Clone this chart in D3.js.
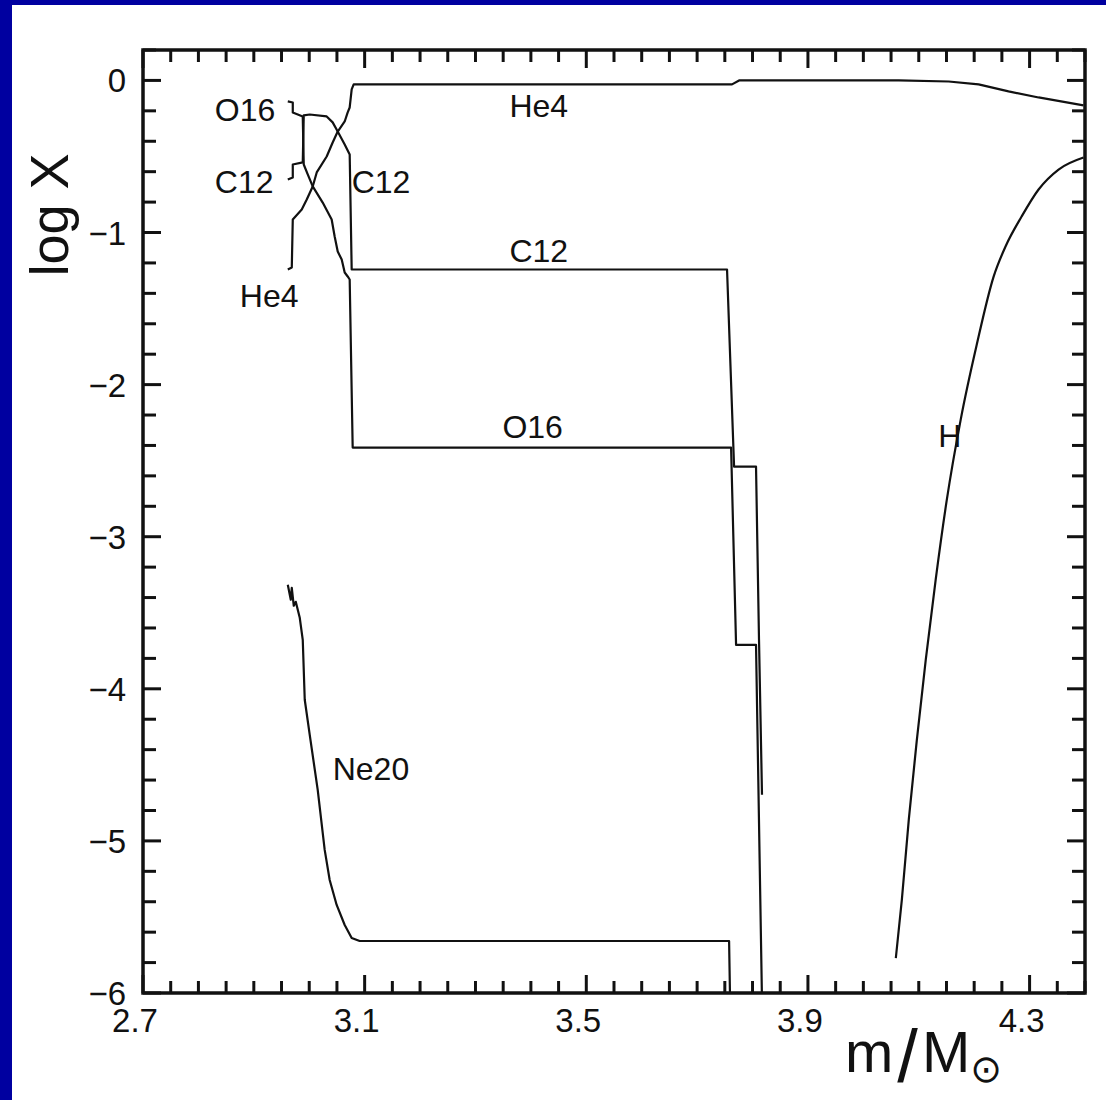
<!DOCTYPE html>
<html>
<head>
<meta charset="utf-8">
<script src="https://cdn.jsdelivr.net/npm/d3@7"></script>
<style>
  html, body { margin: 0; padding: 0; background: #0000a0; }
  svg { display: block; }
  text { font-family: "Liberation Sans", Arial, Helvetica, sans-serif; fill: #111; }
</style>
</head>
<body>
<svg id="chart" width="1106" height="1100"></svg>
<script>
// ---------- data (mass coordinate m/Msun, log abundance) ----------
const he4M = [2.9613, 2.9685, 2.9703, 2.9865, 2.9955, 3.0063, 3.0135, 3.0315, 3.0423, 3.0514, 3.0640, 3.0694, 3.0730, 3.0766, 3.0802, 3.7630, 3.7757, 4.0640, 4.1540, 4.2080, 4.2620, 4.3162, 4.3973];
const he4V = [-1.243, -1.230, -0.914, -0.849, -0.783, -0.697, -0.605, -0.500, -0.408, -0.336, -0.270, -0.210, -0.178, -0.059, -0.026, -0.026, 0.000, 0.000, -0.007, -0.026, -0.072, -0.112, -0.164];

const c12M = [2.9613, 2.9703, 2.9703, 2.9883, 2.9901, 3.0009, 3.0315, 3.0423, 3.0514, 3.0640, 3.0730, 3.0766, 3.7540, 3.7667, 3.8063, 3.8117, 3.8171];
const c12V = [-0.651, -0.638, -0.553, -0.539, -0.230, -0.224, -0.237, -0.276, -0.336, -0.421, -0.487, -1.243, -1.243, -2.539, -2.539, -3.678, -4.697];

const o16M = [2.9613, 2.9703, 2.9703, 2.9793, 2.9883, 2.9901, 2.9973, 3.0063, 3.0243, 3.0405, 3.0459, 3.0514, 3.0586, 3.0640, 3.0694, 3.0730, 3.0784, 3.7613, 3.7703, 3.8063, 3.8171];
const o16V = [-0.138, -0.145, -0.211, -0.224, -0.237, -0.553, -0.618, -0.697, -0.803, -0.914, -1.026, -1.125, -1.178, -1.263, -1.289, -1.309, -2.414, -2.414, -3.711, -3.711, -6.05];

const ne20M = [2.9613, 2.9667, 2.9685, 2.9721, 2.9757, 2.9829, 2.9883, 2.9919, 3.0009, 3.0153, 3.0279, 3.0369, 3.0495, 3.0640, 3.0766, 3.0910, 3.7577, 3.7595];
const ne20V = [-3.316, -3.414, -3.336, -3.454, -3.428, -3.533, -3.678, -4.072, -4.303, -4.664, -5.059, -5.257, -5.421, -5.553, -5.638, -5.658, -5.658, -6.05];

const hM = [4.0586, 4.0694, 4.0820, 4.0964, 4.1126, 4.1306, 4.1505, 4.1757, 4.2045, 4.2351, 4.2568, 4.2856, 4.3162, 4.3523, 4.3973];
const hV = [-5.77, -5.39, -4.86, -4.34, -3.81, -3.28, -2.76, -2.23, -1.74, -1.29, -1.09, -0.895, -0.717, -0.586, -0.507];

const xTickValues = [2.7, 3.1, 3.5, 3.9, 4.3];
const xTickLabels = ["2.7", "3.1", "3.5", "3.9", "4.3"];
const yTickValues = [0, -1, -2, -3, -4, -5, -6];
const yTickLabels = ["0", "\u22121", "\u22122", "\u22123", "\u22124", "\u22125", "\u22126"];

const labelText = ["O16", "C12", "He4", "C12", "He4", "C12", "O16", "Ne20", "H"];
const labelM = [2.8297, 2.8297, 2.8748, 3.0766, 3.3613, 3.3613, 3.3486, 3.0423, 4.1350];
const labelV = [-0.270, -0.737, -1.487, -0.737, -0.243, -1.191, -2.349, -4.599, -2.408];

// ---------- layout ----------
const svg = d3.select("#chart");
const pL = 143, pR = 1085, pT = 50, pB = 993;

svg.append("rect").attr("x", 12).attr("y", 5).attr("width", 1094).attr("height", 1095).attr("fill", "#ffffff");

const x = d3.scaleLinear().domain([2.7, 4.4]).range([pL, pR]);
const y = d3.scaleLinear().domain([-6, 0.2]).range([pB, pT]);

svg.append("clipPath").attr("id", "clip")
  .append("rect").attr("x", pL).attr("y", pT).attr("width", pR - pL).attr("height", pB - pT);

const line = d3.line().x(d => x(d[0])).y(d => y(d[1]));
const smooth = d3.line().x(d => x(d[0])).y(d => y(d[1])).curve(d3.curveMonotoneX);
const series = [[he4M, he4V, line], [c12M, c12V, line], [o16M, o16V, line], [ne20M, ne20V, line], [hM, hV, smooth]];
const g = svg.append("g").attr("clip-path", "url(#clip)");
series.forEach(([ms, vs, gen]) => {
  g.append("path")
    .attr("d", gen(ms.map((m, i) => [m, vs[i]])))
    .attr("fill", "none").attr("stroke", "#111").attr("stroke-width", 2.2)
    .attr("stroke-linejoin", "round");
});

// ---------- ticks (all four sides, inward) ----------
const xMinor = d3.range(0, 35).map(i => +(2.7 + i * 0.05).toFixed(2)).filter(v => v <= 4.4);
const yMinor = d3.range(0, 32).map(i => +(-6 + i * 0.2).toFixed(2)).filter(v => v <= 0.2);
const isXMajor = v => xTickValues.some(t => Math.abs(t - v) < 1e-6);
const isYMajor = v => Math.abs(v - Math.round(v)) < 1e-6;

const tickG = svg.append("g").attr("stroke", "#111").attr("stroke-width", 3);
xMinor.forEach(v => {
  const len = isXMajor(v) ? 18 : 12;
  tickG.append("line").attr("x1", x(v)).attr("x2", x(v)).attr("y1", pB).attr("y2", pB - len);
  tickG.append("line").attr("x1", x(v)).attr("x2", x(v)).attr("y1", pT).attr("y2", pT + len);
});
yMinor.forEach(v => {
  const len = isYMajor(v) ? 18 : 13;
  tickG.append("line").attr("y1", y(v)).attr("y2", y(v)).attr("x1", pL).attr("x2", pL + len);
  tickG.append("line").attr("y1", y(v)).attr("y2", y(v)).attr("x1", pR).attr("x2", pR - len);
});

// frame
svg.append("rect").attr("x", pL).attr("y", pT).attr("width", pR - pL).attr("height", pB - pT)
  .attr("fill", "none").attr("stroke", "#111").attr("stroke-width", 3.5);

// ---------- tick labels ----------
xTickValues.forEach((v, i) => {
  svg.append("text").attr("x", x(v) - 8).attr("y", 1032)
    .attr("text-anchor", "middle").attr("font-size", 33).text(xTickLabels[i]);
});
yTickValues.forEach((v, i) => {
  svg.append("text").attr("x", 126).attr("y", y(v) + 12)
    .attr("text-anchor", "end").attr("font-size", 33).text(yTickLabels[i]);
});

// ---------- axis titles ----------
svg.append("text").attr("transform", "translate(68,215) rotate(-90)")
  .attr("text-anchor", "middle").attr("font-size", 54).text("log X");

const xt = svg.append("text").attr("x", 845).attr("y", 1072).attr("font-size", 58);
xt.append("tspan").text("m");
xt.append("tspan").attr("font-size", 74).attr("dy", 10).attr("dx", 4).text("/");
xt.append("tspan").attr("dy", -10).attr("dx", 4).text("M");
xt.append("tspan").attr("font-family", "DejaVu Sans").attr("font-size", 38).attr("dy", 10).text("\u2299");

// ---------- curve labels ----------
labelText.forEach((t, i) => {
  svg.append("text").attr("x", x(labelM[i])).attr("y", y(labelV[i]))
    .attr("font-size", 32).text(t);
});
</script>
</body>
</html>
